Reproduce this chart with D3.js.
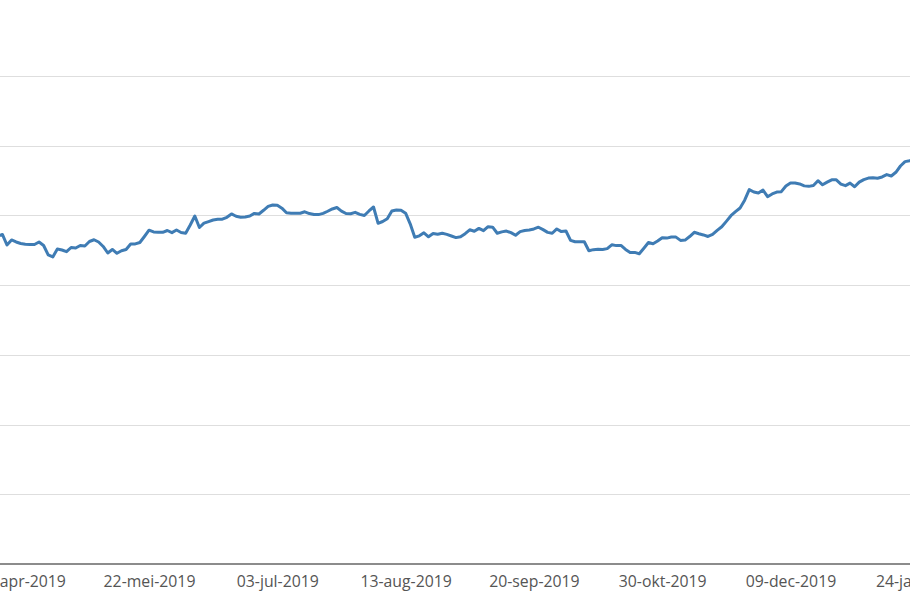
<!DOCTYPE html>
<html>
<head>
<meta charset="utf-8">
<script src="https://cdn.jsdelivr.net/npm/d3@7"></script>
<style>
  html, body { margin: 0; padding: 0; background: #fff; overflow: hidden; }
  svg { display: block; }
</style>
</head>
<body>
<svg id="chart" width="910" height="596"></svg>
<script>
// Closing values per trading day
const values = [
  47.05, 47.27, 45.76, 46.48, 46.19, 45.98, 45.88, 45.82, 45.83, 46.19,
  45.69, 44.33, 44.04, 45.19, 45.04, 44.80, 45.40, 45.33, 45.69, 45.62,
  46.26, 46.51, 46.19, 45.55, 44.61, 45.12, 44.57, 44.94, 45.12, 45.91,
  45.91, 46.12, 46.98, 47.88, 47.63, 47.58, 47.58, 47.84, 47.53, 47.91,
  47.55, 47.44, 48.63, 49.92, 48.27, 48.89, 49.12, 49.35, 49.45, 49.46,
  49.73, 50.21, 49.88, 49.75, 49.78, 49.91, 50.29, 50.21, 50.74, 51.30,
  51.50, 51.47, 51.04, 50.38, 50.31, 50.31, 50.31, 50.52, 50.27, 50.14,
  50.12, 50.29, 50.60, 50.93, 51.13, 50.62, 50.27, 50.25, 50.44, 50.15,
  49.99, 50.64, 51.21, 48.87, 49.13, 49.52, 50.64, 50.78, 50.75, 50.32,
  48.80, 46.87, 47.07, 47.51, 46.94, 47.41, 47.31, 47.44, 47.28, 47.05,
  46.82, 46.95, 47.38, 47.94, 47.73, 48.14, 47.81, 48.39, 48.31, 47.44,
  47.64, 47.76, 47.53, 47.15, 47.67, 47.84, 47.91, 48.06, 48.31, 47.96,
  47.57, 47.44, 48.06, 47.68, 47.77, 46.43, 46.23, 46.23, 46.23, 44.94,
  45.09, 45.14, 45.12, 45.24, 45.79, 45.67, 45.70, 45.13, 44.69, 44.70,
  44.51, 45.30, 46.11, 45.93, 46.33, 46.81, 46.75, 46.91, 46.89, 46.42,
  46.46, 46.97, 47.58, 47.38, 47.20, 46.98, 47.28, 47.86, 48.37, 49.15,
  49.96, 50.54, 51.07, 52.19, 53.71, 53.36, 53.22, 53.65, 52.69, 53.08,
  53.35, 53.41, 54.22, 54.66, 54.64, 54.51, 54.24, 54.17, 54.28, 54.98,
  54.40, 54.77, 55.11, 55.10, 54.50, 54.27, 54.64, 54.12, 54.77, 55.14,
  55.36, 55.42, 55.34, 55.52, 55.86, 55.66, 56.19, 57.09, 57.72, 57.85,
  58.03
];
const categories = d3.range(values.length); // trading-day index
const tickIndex = [5, 33, 61, 89, 117, 145, 173, 201];
const tickLabels = ["10-apr-2019", "22-mei-2019", "03-jul-2019", "13-aug-2019",
                    "20-sep-2019", "30-okt-2019", "09-dec-2019", "24-jan-2020"];
const yTicks = [10, 20, 30, 40, 50, 60, 70];

const svg = d3.select("#chart");
const x = d3.scaleLinear().domain([0, 200]).range([-2.2, 914.2]);
const y = d3.scaleLinear().domain([0, 70]).range([564, 76]);

// grid lines
svg.append("g")
  .selectAll("line")
  .data(yTicks)
  .join("line")
  .attr("x1", -20).attr("x2", 930)
  .attr("y1", d => Math.round(y(d)) + 0.5)
  .attr("y2", d => Math.round(y(d)) + 0.5)
  .attr("stroke", "#dedede")
  .attr("stroke-width", 1);

// x axis
const xAxis = svg.append("g")
  .attr("transform", `translate(0,${y(0)})`)
  .call(d3.axisBottom(x)
    .tickValues(tickIndex)
    .tickFormat((d, i) => tickLabels[i])
    .tickSize(0));
xAxis.select(".domain").remove();
xAxis.append("line")
  .attr("x1", -20).attr("x2", 930)
  .attr("y1", 0).attr("y2", 0)
  .attr("stroke", "#8c8c8c")
  .attr("stroke-width", 2);
xAxis.selectAll("text")
  .attr("y", 23)
  .attr("dy", "0")
  .attr("fill", "#555")
  .style("font-family", "'Open Sans', sans-serif")
  .style("font-size", "15.8px");

// line
const line = d3.line()
  .x((d, i) => x(categories[i]))
  .y(d => y(d));

svg.append("path")
  .datum(values)
  .attr("fill", "none")
  .attr("stroke", "#3f7cb4")
  .attr("stroke-width", 3)
  .attr("stroke-linejoin", "round")
  .attr("stroke-linecap", "round")
  .attr("d", line);
</script>
</body>
</html>
